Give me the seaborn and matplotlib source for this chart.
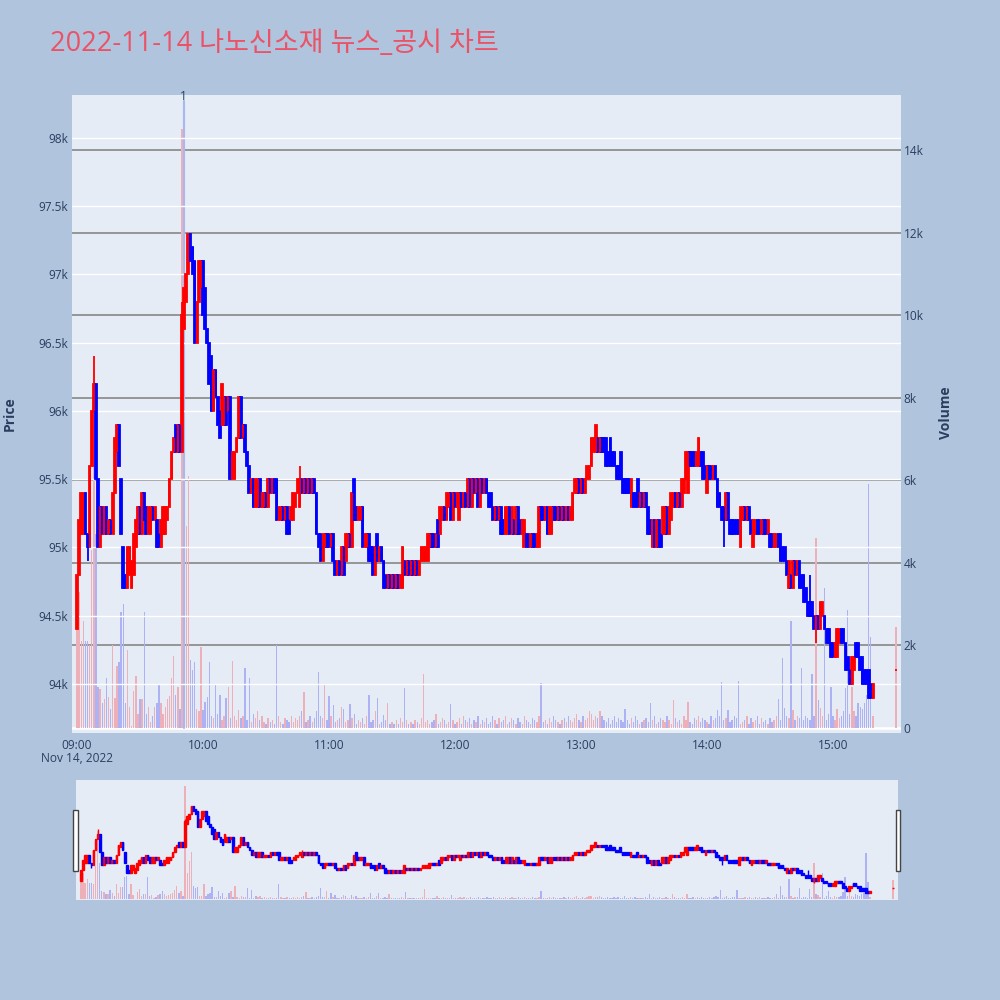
import numpy as np
import pandas as pd
import seaborn as sns
import matplotlib.pyplot as plt
from matplotlib.patches import Rectangle
import matplotlib.transforms as mtransforms

# chart text
title = "2022-11-14 나노신소재 뉴스_공시 차트"

# minutes after 09:00 (last one is the 15:30 closing auction)
minutes = list(range(380)) + [390]

# prices in units of 100 won
opens = [
    944, 948, 951, 951, 954, 951, 950, 956, 960, 962,
    955, 950, 953, 951, 953, 951, 952, 951, 954, 957,
    959, 955, 950, 948, 947, 948, 947, 948, 950, 951,
    953, 951, 954, 953, 951, 951, 953, 952, 952, 951,
    950, 951, 951, 952, 953, 955, 957, 959, 957, 959,
    957, 966, 968, 970, 973, 972, 971, 965, 968, 969,
    971, 969, 966, 965, 964, 960, 963, 961, 960, 959,
    959, 961, 960, 961, 955, 955, 957, 958, 961, 958,
    959, 957, 956, 954, 955, 953, 953, 955, 953, 953,
    954, 953, 955, 954, 955, 955, 952, 952, 953, 952,
    953, 952, 952, 952, 953, 954, 953, 955, 954, 955,
    954, 955, 954, 955, 954, 951, 951, 949, 950, 951,
    951, 950, 951, 949, 948, 949, 948, 950, 949, 950,
    951, 950, 955, 953, 952, 952, 953, 950, 950, 951,
    950, 950, 948, 951, 949, 950, 949, 948, 947, 948,
    947, 948, 947, 948, 947, 947, 949, 948, 949, 948,
    949, 948, 949, 948, 949, 949, 949, 949, 950, 951,
    951, 950, 952, 951, 952, 953, 952, 953, 954, 952,
    954, 953, 952, 954, 953, 954, 953, 955, 953, 955,
    954, 955, 953, 955, 954, 955, 954, 954, 953, 952,
    953, 952, 953, 952, 951, 951, 953, 951, 952, 951,
    953, 952, 951, 950, 951, 951, 950, 951, 951, 950,
    950, 953, 953, 952, 953, 951, 951, 953, 953, 952,
    953, 952, 953, 952, 953, 952, 952, 954, 954, 955,
    954, 955, 954, 955, 955, 956, 957, 957, 958, 957,
    958, 958, 958, 957, 958, 957, 957, 956, 956, 957,
    955, 955, 955, 955, 953, 954, 954, 955, 953, 954,
    953, 954, 953, 952, 950, 952, 950, 952, 951, 951,
    951, 953, 951, 952, 953, 954, 953, 954, 953, 954,
    955, 954, 957, 957, 957, 956, 956, 957, 957, 956,
    954, 956, 956, 955, 956, 955, 954, 953, 953, 952,
    954, 952, 952, 952, 952, 952, 950, 952, 953, 952,
    953, 952, 950, 951, 952, 952, 951, 952, 952, 951,
    951, 951, 950, 950, 951, 951, 950, 950, 949, 947,
    948, 947, 949, 948, 949, 948, 948, 947, 946, 946,
    946, 945, 944, 945, 944, 945, 945, 944, 944, 943,
    943, 942, 942, 943, 944, 944, 943, 942, 941, 940,
    941, 943, 943, 942, 942, 941, 941, 941, 940, 939,
    941,
]
closes = [
    948, 952, 954, 954, 951, 950, 956, 960, 962, 955,
    950, 953, 951, 953, 951, 952, 951, 954, 958, 959,
    956, 951, 947, 947, 950, 950, 949, 951, 952, 953,
    951, 954, 952, 951, 953, 953, 952, 953, 950, 950,
    952, 953, 953, 953, 955, 957, 958, 957, 959, 957,
    967, 969, 970, 973, 971, 970, 965, 968, 971, 971,
    967, 966, 965, 962, 960, 963, 961, 959, 958, 962,
    961, 959, 961, 955, 957, 957, 958, 961, 958, 959,
    957, 956, 954, 955, 953, 955, 955, 953, 954, 954,
    953, 955, 954, 955, 954, 952, 953, 953, 952, 953,
    951, 951, 953, 954, 954, 955, 955, 954, 955, 954,
    955, 954, 955, 954, 951, 950, 949, 951, 951, 950,
    950, 951, 949, 948, 949, 948, 950, 948, 951, 951,
    950, 954, 952, 952, 953, 953, 950, 951, 951, 949,
    949, 948, 950, 949, 950, 949, 947, 947, 948, 947,
    948, 947, 948, 947, 948, 950, 948, 949, 948, 949,
    948, 949, 948, 949, 950, 950, 950, 951, 951, 950,
    950, 951, 950, 953, 953, 952, 954, 954, 952, 954,
    953, 954, 954, 953, 954, 953, 955, 953, 955, 954,
    955, 953, 955, 954, 955, 954, 953, 953, 952, 953,
    952, 953, 951, 951, 953, 953, 951, 953, 951, 953,
    951, 951, 952, 952, 950, 950, 951, 950, 950, 951,
    953, 952, 952, 953, 951, 953, 953, 952, 952, 953,
    952, 953, 952, 953, 952, 953, 954, 955, 955, 954,
    955, 954, 955, 956, 956, 958, 958, 959, 957, 958,
    957, 957, 956, 956, 956, 956, 956, 955, 955, 955,
    954, 954, 954, 954, 955, 953, 953, 953, 954, 953,
    954, 953, 951, 951, 952, 950, 952, 950, 950, 953,
    953, 951, 953, 954, 954, 953, 954, 953, 955, 955,
    957, 957, 956, 956, 956, 957, 958, 956, 955, 955,
    956, 955, 955, 956, 955, 953, 953, 952, 952, 954,
    952, 951, 951, 951, 951, 951, 953, 953, 952, 953,
    952, 951, 952, 952, 951, 951, 952, 951, 951, 952,
    950, 950, 951, 951, 950, 949, 949, 949, 948, 949,
    947, 949, 948, 949, 947, 947, 946, 946, 945, 945,
    945, 944, 945, 944, 946, 946, 944, 943, 943, 942,
    942, 943, 944, 944, 943, 943, 941, 941, 940, 942,
    942, 942, 942, 941, 940, 940, 940, 939, 939, 940,
    941,
]
# wicks that stick out of the bodies (minute: price in 100 won)
wick_high = {8: 964, 50: 968, 106: 956, 132: 955, 259: 957, 296: 958, 349: 948}
wick_low = {5: 949, 141: 948, 308: 950, 316: 950, 352: 943}

volume = [
    2400, 3300, 2100, 2600, 2100, 2100, 2000, 4300, 8700, 4700,
    1000, 940, 600, 700, 1200, 750, 450, 2000, 720, 1500,
    1600, 2800, 3000, 600, 1900, 500, 60, 900, 1250, 350,
    700, 700, 2800, 340, 500, 150, 300, 500, 600, 1040,
    600, 350, 500, 700, 770, 1200, 1740, 800, 1000, 450,
    14500, 3300, 4900, 6100, 1650, 1400, 1600, 450, 400, 1970,
    430, 630, 760, 1600, 300, 250, 1040, 350, 800, 200,
    300, 730, 1000, 250, 1630, 300, 200, 440, 250, 300,
    1450, 200, 1200, 150, 350, 250, 420, 200, 290, 150,
    100, 250, 150, 200, 100, 2000, 300, 150, 100, 250,
    200, 150, 300, 150, 250, 200, 300, 400, 880, 150,
    200, 300, 150, 250, 400, 1360, 300, 250, 1060, 200,
    770, 300, 550, 150, 200, 250, 500, 450, 150, 200,
    580, 250, 340, 100, 200, 150, 250, 100, 300, 800,
    150, 200, 410, 720, 100, 150, 320, 200, 600, 100,
    150, 100, 200, 100, 250, 150, 960, 200, 100, 150,
    100, 200, 150, 100, 250, 1300, 150, 200, 100, 150,
    200, 350, 100, 150, 250, 200, 100, 150, 580, 200,
    100, 150, 250, 100, 300, 200, 150, 250, 100, 200,
    150, 300, 100, 200, 150, 250, 100, 150, 300, 200,
    100, 250, 150, 200, 300, 100, 150, 250, 200, 100,
    250, 150, 100, 300, 200, 150, 100, 250, 200, 150,
    300, 1100, 150, 200, 100, 250, 150, 300, 200, 150,
    100, 200, 250, 150, 300, 200, 150, 250, 350, 200,
    150, 300, 200, 250, 410, 350, 200, 300, 250, 410,
    300, 200, 150, 250, 100, 200, 300, 150, 250, 200,
    150, 450, 200, 100, 250, 150, 300, 200, 100, 150,
    200, 250, 150, 600, 200, 300, 100, 150, 250, 200,
    150, 300, 200, 100, 680, 250, 150, 200, 100, 300,
    200, 640, 150, 100, 250, 200, 300, 150, 250, 200,
    150, 100, 300, 200, 250, 440, 300, 1120, 200, 250,
    440, 150, 200, 300, 250, 1140, 100, 150, 200, 300,
    100, 250, 150, 200, 300, 100, 250, 150, 200, 100,
    250, 150, 200, 300, 700, 200, 1700, 480, 300, 250,
    2600, 440, 200, 300, 250, 1450, 200, 300, 250, 200,
    1300, 300, 4600, 680, 480, 300, 3400, 200, 350, 1000,
    300, 200, 450, 250, 300, 400, 960, 2850, 350, 1000,
    400, 300, 600, 500, 450, 600, 800, 5900, 2200, 300,
    2450,
]

# news marker
news_minute = [50.8]
news_label = ["1"]

# axes ticks
price_ticks = [94000, 94500, 95000, 95500, 96000, 96500, 97000, 97500, 98000]
price_labels = ["94k", "94.5k", "95k", "95.5k", "96k", "96.5k", "97k", "97.5k", "98k"]
vol_ticks = [0, 2000, 4000, 6000, 8000, 10000, 12000, 14000]
vol_labels = ["0", "2k", "4k", "6k", "8k", "10k", "12k", "14k"]
time_ticks = [0, 60, 120, 180, 240, 300, 360]
time_labels = ["09:00", "10:00", "11:00", "12:00", "13:00", "14:00", "15:00"]

# colours
UP, DOWN = "#FF0000", "#0000FF"
vol_pal = {"up": "#EDB0B8", "down": "#ACB2F4"}
text_col = "#2a3f5f"

sns.set_theme(style="darkgrid", rc={"axes.facecolor": "#E5ECF6",
                                    "figure.facecolor": "#B0C4DE",
                                    "grid.color": "white"})
plt.rcParams["font.family"] = ["Open Sans", "Noto Sans CJK KR", "DejaVu Sans"]

df = pd.DataFrame({"minute": minutes,
                   "open": np.array(opens) * 100,
                   "close": np.array(closes) * 100,
                   "volume": volume})
df["high"] = df[["open", "close"]].max(axis=1)
df["low"] = df[["open", "close"]].min(axis=1)
for m, p in wick_high.items():
    df.loc[df.minute == m, "high"] = p * 100
for m, p in wick_low.items():
    df.loc[df.minute == m, "low"] = p * 100
df["dir"] = np.where(df["close"] >= df["open"], "up", "down")

XLIM = (-2.4, 392.4)
PLIM = (93641, 98315)
VLIM = (-121, 15331)


def draw_volume(ax):
    sns.barplot(data=df, x="minute", y="volume", hue="dir", palette=vol_pal,
                native_scale=True, width=0.65, dodge=False, errorbar=None,
                saturation=1, linewidth=0, legend=False, ax=ax)
    ax.set_ylim(VLIM)
    ax.set_xlim(XLIM)


def draw_candles(ax, lw):
    cols = np.where(df["dir"] == "up", UP, DOWN)
    ax.vlines(df["minute"], df["low"], df["high"], colors=cols, linewidth=lw)
    ax.bar(df["minute"], df["close"] - df["open"], bottom=df["open"], width=0.8,
           color=cols, edgecolor=cols, linewidth=lw)
    ax.set_ylim(PLIM)
    ax.set_xlim(XLIM)


fig = plt.figure(figsize=(10, 10), dpi=100)

# main chart: volume underneath, price on top
ax_vol = fig.add_axes([0.072, 0.267, 0.829, 0.638])
draw_volume(ax_vol)
ax_vol.grid(False)
for v in vol_ticks:
    # plotly draws the zero line white, the other volume grid lines grey
    ax_vol.axhline(v, color="white" if v == 0 else "#8E8E8E",
                   lw=1.8 if v == 0 else 1.3, zorder=0.5)
ax_vol.axvline(news_minute[0], ymin=0.008, ymax=0.99, color="#A9B7EF", lw=1.5)
ax_vol.text(news_minute[0], 0.997, news_label[0], ha="center", va="center",
            fontsize=8.6, color=text_col,
            transform=mtransforms.blended_transform_factory(ax_vol.transData, ax_vol.transAxes))

ax_price = ax_vol.twinx()
ax_price.set_zorder(ax_vol.get_zorder() + 1)
ax_price.patch.set_visible(False)
draw_candles(ax_price, 1.3)
ax_price.yaxis.tick_left()
ax_price.set_yticks(price_ticks, price_labels)
ax_price.grid(axis="y", color="white", linewidth=1.0)
ax_price.grid(axis="x", visible=False)

# twinx moves the original ticks to the left, so put volume ticks back right
ax_vol.yaxis.tick_right()
ax_vol.set_yticks(vol_ticks, vol_labels)

ax_vol.set_xticks(time_ticks, time_labels)
for ax in (ax_vol, ax_price):
    ax.set_xlabel("")
    ax.set_ylabel("")
    for s in ax.spines.values():
        s.set_visible(False)
    ax.tick_params(length=0, labelsize=8.6, labelcolor=text_col)
ax_vol.tick_params(axis="x", pad=4)
ax_vol.tick_params(axis="y", pad=2)
ax_price.tick_params(axis="y", pad=3)

fig.text(0.077, 1 - 0.758, "Nov 14, 2022", ha="center", va="center",
         fontsize=8.6, color=text_col)
fig.text(0.010, 1 - 0.414, "Price", rotation=90, ha="center", va="center",
         fontsize=10, fontweight="bold", color=text_col)
fig.text(0.946, 1 - 0.413, "Volume", rotation=90, ha="center", va="center",
         fontsize=10, fontweight="bold", color=text_col)
fig.text(0.05, 1 - 0.051, title, ha="left", va="baseline", fontsize=19.5,
         color="#EC5266")

# range slider
ax_sl = fig.add_axes([0.076, 0.100, 0.822, 0.120])
draw_volume(ax_sl)
ax_sl2 = ax_sl.twinx()
ax_sl2.patch.set_visible(False)
draw_candles(ax_sl2, 1.0)
for ax in (ax_sl, ax_sl2):
    ax.set_xticks([])
    ax.set_yticks([])
    ax.set_xlabel("")
    ax.set_ylabel("")
    ax.grid(False)
    for s in ax.spines.values():
        s.set_visible(False)
for x0 in (0.0733, 0.8960):
    fig.patches.append(Rectangle((x0, 1 - 0.871), 0.0042, 0.061,
                                 transform=fig.transFigure, facecolor="white",
                                 edgecolor="#444444", linewidth=1))

fig.savefig("out.png", dpi=100, facecolor=fig.get_facecolor())
